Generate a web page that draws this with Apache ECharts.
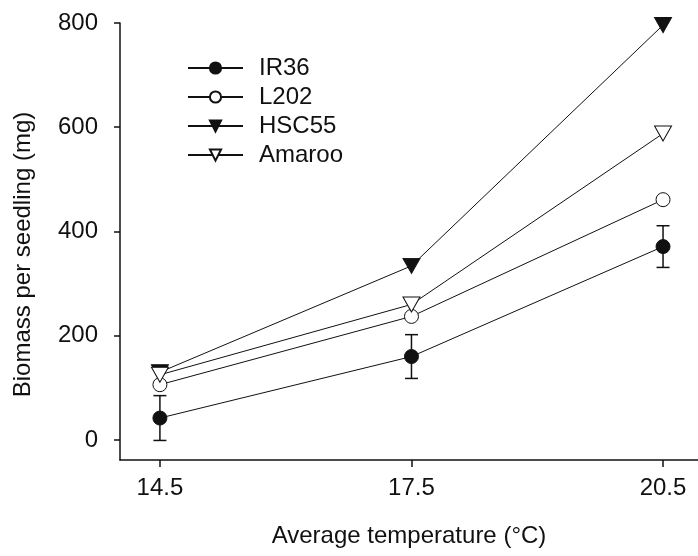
<!DOCTYPE html>
<html>
<head>
<meta charset="utf-8">
<script src="https://cdn.jsdelivr.net/npm/echarts@6/dist/echarts.min.js"></script>
<style>html,body{margin:0;padding:0;background:#fff}#c{width:698px;height:556px}</style>
</head>
<body>
<div id="c"></div>
<script>
var temps = [14.5, 17.5, 20.5];
var xTicks = [14.5, 17.5, 20.5];
var yTicks = [0, 200, 400, 600, 800];
var seriesNames = ['IR36', 'L202', 'HSC55', 'Amaroo'];
var ir36 = [42, 160, 371];
var ir36Err = [43, 42, 40];
var l202 = [106, 237, 461];
var hsc55 = [130, 334, 796];
var amaroo = [125, 260, 588];

var FONT = 'Liberation Sans, Arial, sans-serif';
var INK = '#111';

function pairs(ys) { return temps.map(function (t, i) { return [t, ys[i]]; }); }

var errData = temps.map(function (t, i) { return [t, ir36[i] - ir36Err[i], ir36[i] + ir36Err[i]]; });

function lineSeries(name, ys, symbol, size, fill, rotate) {
  return {
    name: name, type: 'line', data: pairs(ys),
    symbol: symbol, symbolSize: size, symbolRotate: rotate || 0,
    showAllSymbol: true, clip: false, z: 3,
    lineStyle: { color: INK, width: 1 },
    itemStyle: { color: fill, borderColor: INK, borderWidth: 1, opacity: 1 },
    emphasis: { disabled: true }
  };
}

var chart = echarts.init(document.getElementById('c'), null, { renderer: 'canvas' });
chart.setOption({
  animation: false,
  backgroundColor: '#fff',
  grid: { left: 120, right: 0, top: 23, bottom: 96, containLabel: false },
  legend: {
    data: seriesNames,
    orient: 'vertical', left: 187, top: 56, padding: 0,
    itemWidth: 55, itemHeight: 14, itemGap: 5,
    textStyle: { fontFamily: FONT, fontSize: 24, color: INK, padding: [0, 0, 0, 11] },
    inactiveColor: '#ccc'
  },
  xAxis: {
    type: 'value', min: 14.024, max: 20.917,
    name: 'Average temperature (°C)', nameLocation: 'middle', nameGap: 64,
    nameTextStyle: { fontFamily: FONT, fontSize: 24, color: INK },
    axisLine: { show: true, onZero: false, lineStyle: { color: INK, width: 1.5 } },
    axisTick: { show: true, length: 7, lineStyle: { color: INK, width: 1.5 }, customValues: xTicks },
    axisLabel: { fontFamily: FONT, fontSize: 24, color: INK, margin: 16, customValues: xTicks,
      formatter: function (v) { return v.toFixed(1); } },
    splitLine: { show: false }
  },
  yAxis: {
    type: 'value', min: -38.5, max: 800,
    name: 'Biomass per seedling (mg)', nameLocation: 'middle', nameGap: 85,
    nameTextStyle: { fontFamily: FONT, fontSize: 24, color: INK, padding: [0, 26, 0, 0] },
    axisLine: { show: true, onZero: false, lineStyle: { color: INK, width: 1.5 } },
    axisTick: { show: true, length: 6, lineStyle: { color: INK, width: 1.5 }, customValues: yTicks },
    axisLabel: { fontFamily: FONT, fontSize: 24, color: INK, margin: 22, customValues: yTicks },
    splitLine: { show: false }
  },
  series: [
    {
      name: 'IR36 error', type: 'custom', data: errData, z: 2, clip: false,
      renderItem: function (params, api) {
        var x = api.value(0);
        var lo = api.coord([x, api.value(1)]);
        var hi = api.coord([x, api.value(2)]);
        var hw = 6.5;
        return {
          type: 'group',
          children: [
            { type: 'line', shape: { x1: lo[0], y1: lo[1], x2: hi[0], y2: hi[1] }, style: { stroke: INK, lineWidth: 1.5 } },
            { type: 'line', shape: { x1: lo[0] - hw, y1: lo[1], x2: lo[0] + hw, y2: lo[1] }, style: { stroke: INK, lineWidth: 1.5 } },
            { type: 'line', shape: { x1: hi[0] - hw, y1: hi[1], x2: hi[0] + hw, y2: hi[1] }, style: { stroke: INK, lineWidth: 1.5 } }
          ]
        };
      }
    },
    lineSeries('IR36', ir36, 'circle', 14, INK),
    lineSeries('L202', l202, 'circle', 14, '#fff'),
    lineSeries('HSC55', hsc55, 'triangle', [17, 15], INK, 180),
    lineSeries('Amaroo', amaroo, 'triangle', [17, 15], '#fff', 180)
  ]
});
</script>
</body>
</html>
